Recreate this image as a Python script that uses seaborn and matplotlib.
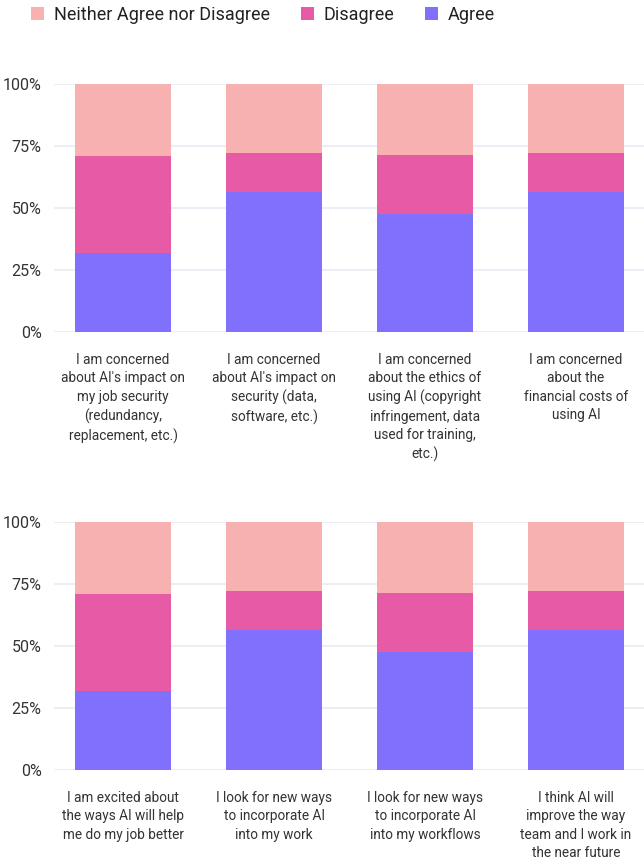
import matplotlib.pyplot as plt
import seaborn as sns
import numpy as np
from matplotlib.patches import Patch

# Data (percent of respondents)
top_labels = [
    "I am concerned\nabout AI's impact on\nmy job security\n(redundancy,\nreplacement, etc.)",
    "I am concerned\nabout AI's impact on\nsecurity (data,\nsoftware, etc.)",
    "I am concerned\nabout the ethics of\nusing AI (copyright\ninfringement, data\nused for training,\netc.)",
    "I am concerned\nabout the\nfinancial costs of\nusing AI",
]
top_agree = [32, 56.5, 47.5, 56.5]
top_disagree = [39, 15.5, 24, 15.5]
top_neither = [29, 28, 28.5, 28]

bottom_labels = [
    "I am excited about\nthe ways AI will help\nme do my job better",
    "I look for new ways\nto incorporate AI\ninto my work",
    "I look for new ways\nto incorporate AI\ninto my workflows",
    "I think AI will\nimprove the way\nteam and I work in\nthe near future",
]
bottom_agree = [32, 56.5, 47.5, 56.5]
bottom_disagree = [39, 15.5, 24, 15.5]
bottom_neither = [29, 28, 28.5, 28]

series_names = ["Neither Agree nor Disagree", "Disagree", "Agree"]
colors = {"Neither Agree nor Disagree": "#F8B1B1", "Disagree": "#E75BA6", "Agree": "#8170FC"}
text_color = "#333333"

sns.set_style("white")
plt.rcParams['font.family'] = ['Roboto', 'DejaVu Sans']

fig = plt.figure(figsize=(6.44, 8.64), dpi=100)
ax_top = fig.add_axes([54 / 644, 1 - 332 / 864, 590 / 644, 248 / 864])
ax_bot = fig.add_axes([54 / 644, 1 - 770 / 864, 590 / 644, 248 / 864])


def stacked_panel(ax, labels, agree, disagree, neither):
    agree = np.array(agree)
    disagree = np.array(disagree)
    neither = np.array(neither)
    # stack by drawing the cumulative totals on top of each other
    layers = [
        ("Neither Agree nor Disagree", agree + disagree + neither),
        ("Disagree", agree + disagree),
        ("Agree", agree),
    ]
    for name, vals in layers:
        sns.barplot(x=labels, y=vals, color=colors[name], saturation=1,
                    width=0.635, ax=ax, zorder=3, linewidth=0, edgecolor="none")
    ax.set_ylim(0, 100)
    ax.set_xlim(-0.457, 3.45)
    ax.set_yticks([0, 25, 50, 75, 100])
    ax.set_yticklabels(["0%", "25%", "50%", "75%", "100%"])
    ax.grid(axis="y", color="#EDEDF6", linewidth=1.5, zorder=0)
    ax.set_axisbelow(True)
    sns.despine(ax=ax, left=True, bottom=True)
    ax.tick_params(axis="y", length=0, pad=9, labelsize=11.5, labelcolor=text_color)
    ax.tick_params(axis="x", length=0, pad=15, labelsize=9.8, labelcolor=text_color)
    for t in ax.get_xticklabels():
        t.set_multialignment("center")
        t.set_linespacing(1.4)
    ax.set_xlabel("")
    ax.set_ylabel("")


stacked_panel(ax_top, top_labels, top_agree, top_disagree, top_neither)
stacked_panel(ax_bot, bottom_labels, bottom_agree, bottom_disagree, bottom_neither)

handles = [Patch(facecolor=colors[n], edgecolor="none", label=n) for n in series_names]
fig.legend(handles=handles, loc="upper left", bbox_to_anchor=(31 / 644, 1 - 6 / 864),
           ncol=3, frameon=False, fontsize=13, labelcolor="#222222",
           handlelength=0.72, handleheight=0.72, handletextpad=0.55,
           columnspacing=1.7, borderpad=0, borderaxespad=0)

fig.savefig("out.png", dpi=100)
